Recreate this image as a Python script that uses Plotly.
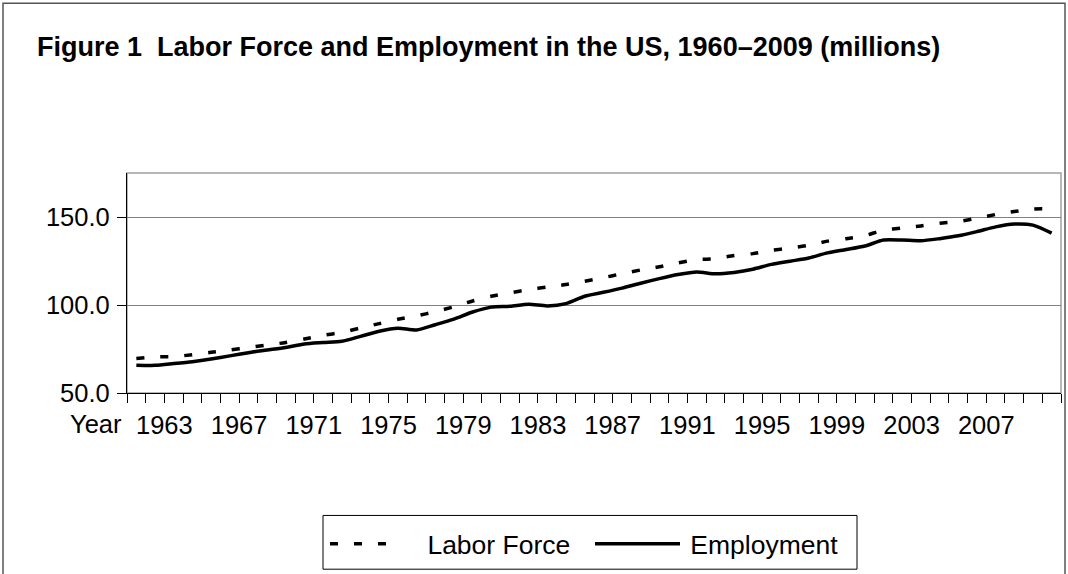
import plotly.graph_objects as go

years = list(range(1960, 2010))
labor_force = [69.6, 70.5, 70.6, 71.8, 73.1, 74.5, 75.8, 77.3, 78.7, 80.7,
               82.8, 84.4, 87.0, 89.4, 91.9, 93.8, 96.2, 99.0, 102.3, 105.0,
               106.9, 108.7, 110.2, 111.6, 113.5, 115.5, 117.8, 119.9, 121.7, 123.9,
               125.8, 126.3, 128.1, 129.2, 131.1, 132.3, 133.9, 136.3, 137.7, 139.4,
               142.6, 143.7, 144.9, 146.5, 147.4, 149.3, 151.4, 153.1, 154.5, 154.6]
employment = [65.8, 65.7, 66.7, 67.8, 69.3, 71.1, 72.9, 74.4, 75.9, 77.9,
              78.7, 79.4, 82.2, 85.1, 86.8, 85.8, 88.8, 92.0, 96.0, 98.8,
              99.3, 100.4, 99.5, 100.8, 105.0, 107.2, 109.6, 112.4, 115.0, 117.3,
              118.8, 117.7, 118.5, 120.3, 123.1, 124.9, 126.7, 129.6, 131.5, 133.5,
              136.9, 136.9, 136.5, 137.7, 139.3, 141.7, 144.4, 146.0, 145.4, 140.8]
label_years = [1963, 1967, 1971, 1975, 1979, 1983, 1987, 1991, 1995, 1999, 2003, 2007]
y_ticks = [50, 100, 150]

FONT = "Liberation Sans, Arial, sans-serif"
W, H = 1068, 574
L, R, T, B = 127, 7, 173, 180

# category boundaries (ticks between categories)
bounds = [y - 0.5 for y in years] + [years[-1] + 0.5]
# labels sit at the boundary 1.5 categories before the labelled year
ticktext = []
for b in bounds:
    lab = ""
    for ly in label_years:
        if abs((ly - 1.5) - b) < 1e-6:
            lab = str(ly)
    ticktext.append(lab)

NB = "\u00a0"
TH = "\u2009"

fig = go.Figure()
fig.add_trace(go.Scatter(
    x=years, y=labor_force, name=NB * 3 + TH + "Labor Force", mode="lines",
    legend="legend",
    line=dict(color="black", width=3.5, dash="8px,16px", shape="spline", smoothing=0.7)))
fig.add_trace(go.Scatter(
    x=years, y=employment, name=TH + "Employment", mode="lines",
    legend="legend2",
    line=dict(color="black", width=3.5, shape="spline", smoothing=0.7)))

pw = W - L - R
ph = H - T - B

def px2xp(px):
    return (px - L) / pw

def py2yp(py):
    return (H - B - py) / ph

legend_common = dict(orientation="h", xanchor="left", yanchor="middle",
                     borderwidth=0, font=dict(size=26.5, family=FONT, color="black"),
                     bgcolor="rgba(0,0,0,0)")

fig.update_layout(
    width=W, height=H,
    margin=dict(l=L, r=R, t=T, b=B),
    paper_bgcolor="white", plot_bgcolor="white",
    font=dict(family=FONT, color="black", size=25),
    title=dict(text="Figure 1  Labor Force and Employment in the US, 1960\u20132009 (millions)",
               x=37 / W, xanchor="left", xref="container",
               y=1 - 47 / H, yanchor="middle", yref="container",
               font=dict(family=FONT, size=27, color="black", weight="bold")),
    xaxis=dict(range=[years[0] - 0.5, years[-1] + 0.5], tickmode="array",
               tickvals=bounds, ticktext=ticktext, ticks="outside", ticklen=9,
               tickwidth=1.3, tickcolor="black", showline=True, linecolor="black",
               linewidth=1.3, showgrid=False, zeroline=False, automargin=False,
               tickfont=dict(size=25.5, family=FONT, color="black"),
               ticklabelstandoff=0),
    yaxis=dict(range=[50, 175], tickmode="array", tickvals=y_ticks,
               ticktext=[f"{v:.1f}" for v in y_ticks], ticks="outside", ticklen=9,
               tickwidth=1.3, tickcolor="black", showline=True, linecolor="black",
               linewidth=1.3, showgrid=True, gridcolor="#808080", gridwidth=1.3,
               zeroline=False, automargin=False,
               tickfont=dict(size=25.5, family=FONT, color="black"),
               ticklabelstandoff=2),
    legend=dict(x=px2xp(325), y=py2yp(544), itemwidth=65, **legend_common),
    legend2=dict(x=px2xp(590), y=py2yp(544), itemwidth=85, **legend_common),
    showlegend=True,
)

# plot-area border (top/right grey)
fig.add_shape(type="rect", xref="paper", yref="paper", x0=0, x1=1, y0=0, y1=1,
              line=dict(color="#a0a0a0", width=1.5), layer="below")
# outer chart-area border
fig.add_shape(type="rect", xref="paper", yref="paper",
              x0=px2xp(3), x1=px2xp(1065), y0=py2yp(620), y1=py2yp(2.5),
              line=dict(color="#555555", width=1.5), layer="below")
# legend box
fig.add_shape(type="rect", xref="paper", yref="paper",
              x0=px2xp(323), x1=px2xp(857), y0=py2yp(571), y1=py2yp(517),
              line=dict(color="black", width=1))

fig.add_annotation(text="Year", xref="paper", yref="paper", x=px2xp(96), y=py2yp(425),
                   showarrow=False, xanchor="center", yanchor="middle",
                   font=dict(size=25.5, family=FONT, color="black"))

fig.write_html("out.html",
               config={"displayModeBar": False},
               post_script="document.body.style.margin='0px';"
                           "document.body.style.overflow='hidden';")
